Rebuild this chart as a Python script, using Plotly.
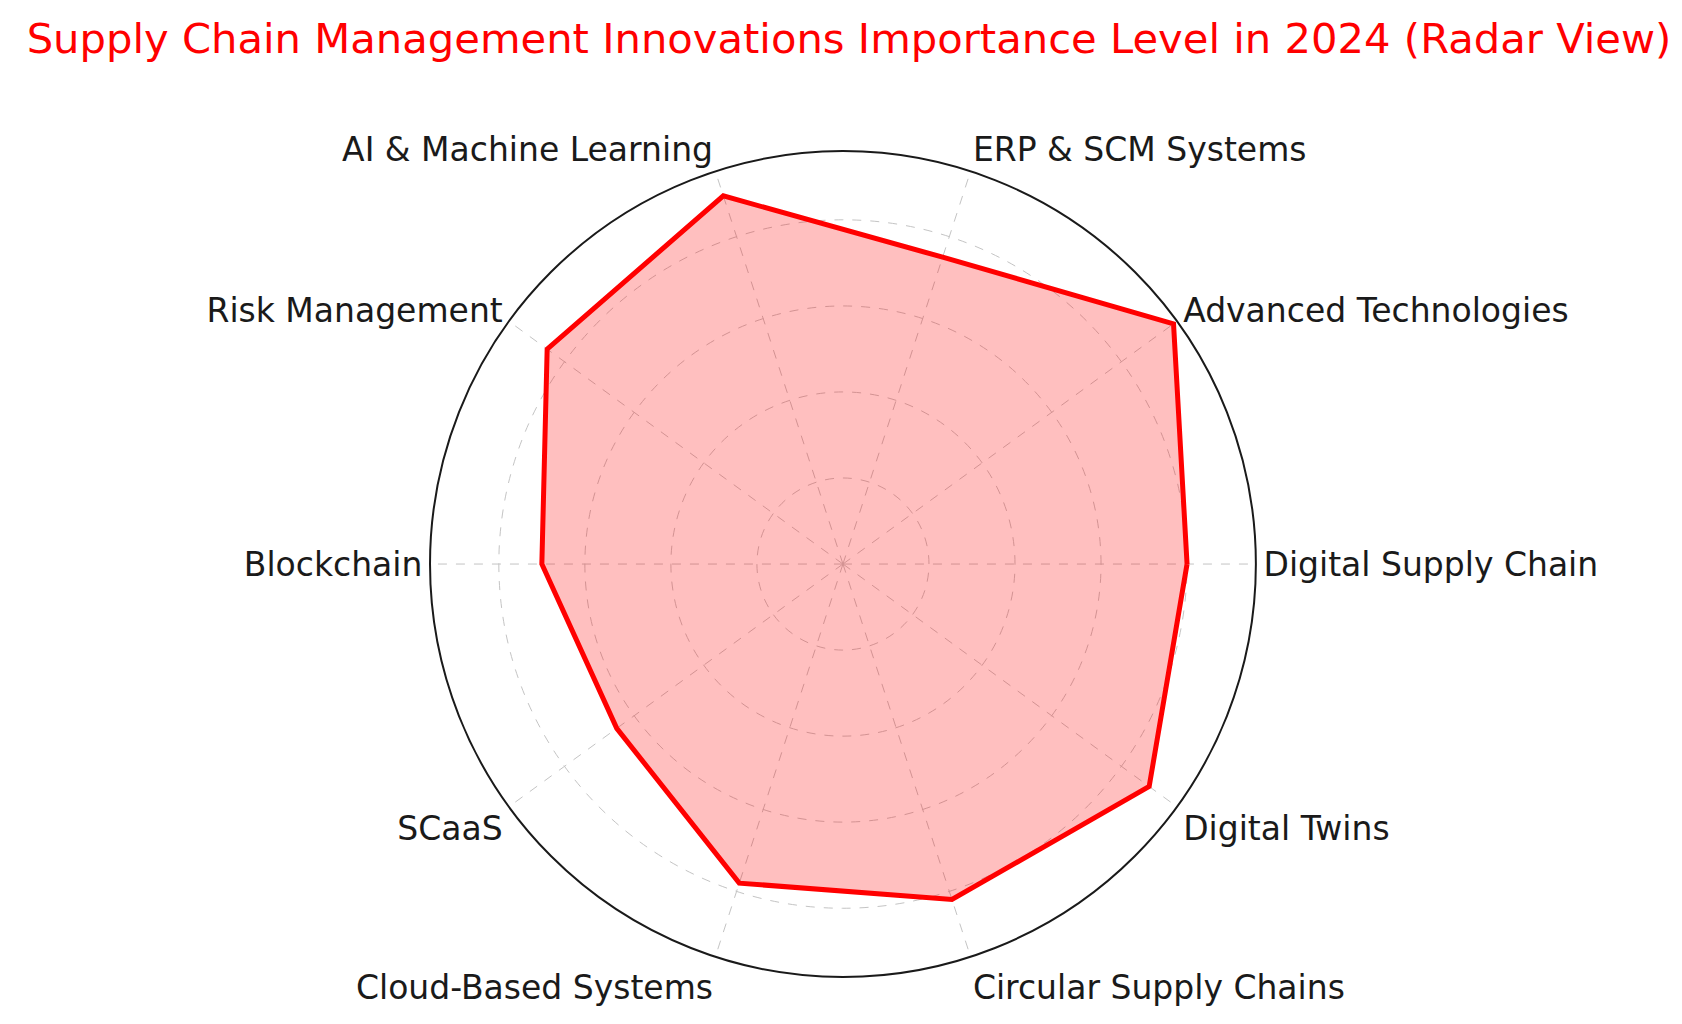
import plotly.graph_objects as go

categories = [
    "Digital Supply Chain", "Advanced Technologies", "ERP & SCM Systems",
    "AI & Machine Learning", "Risk Management", "Blockchain", "SCaaS",
    "Cloud-Based Systems", "Circular Supply Chains", "Digital Twins",
]
importance = [80, 95, 75, 90, 85, 70, 65, 78, 82, 88]
ring_values = [20, 40, 60, 80]
r_max = 96

# close the polygon
theta_closed = categories + categories[:1]
r_closed = importance + importance[:1]

fig = go.Figure()
fig.add_trace(go.Scatterpolar(
    r=r_closed,
    theta=theta_closed,
    mode="lines",
    fill="toself",
    fillcolor="rgba(255,0,0,0.25)",
    line=dict(color="red", width=5),
    hoverinfo="skip",
    showlegend=False,
))

fig.update_layout(
    width=1682, height=1024,
    margin=dict(l=0, r=0, t=0, b=0),
    paper_bgcolor="white",
    font=dict(family="DejaVu Sans", color="#1a1a1a"),
    title=dict(
        text="Supply Chain Management Innovations Importance Level in 2024 (Radar View)",
        font=dict(size=41.7, color="red", family="DejaVu Sans"),
        x=0.5, xanchor="center", y=0.985, yanchor="top",
    ),
    polar=dict(
        domain=dict(x=[0.2509, 0.7419], y=[0.0537, 0.8603]),
        bgcolor="white",
        radialaxis=dict(
            range=[0, r_max],
            tickvals=ring_values,
            showticklabels=False,
            ticks="",
            showline=False,
            gridcolor="#c4c4c4",
            gridwidth=1.3,
            griddash="dash",
        ),
        angularaxis=dict(
            rotation=0,
            direction="counterclockwise",
            showline=True,
            linecolor="#1a1a1a",
            linewidth=2,
            ticks="",
            gridcolor="#c4c4c4",
            gridwidth=1.3,
            griddash="dash",
            tickfont=dict(size=33, color="#1a1a1a"),
        ),
    ),
)

fig.write_html("out.html")
